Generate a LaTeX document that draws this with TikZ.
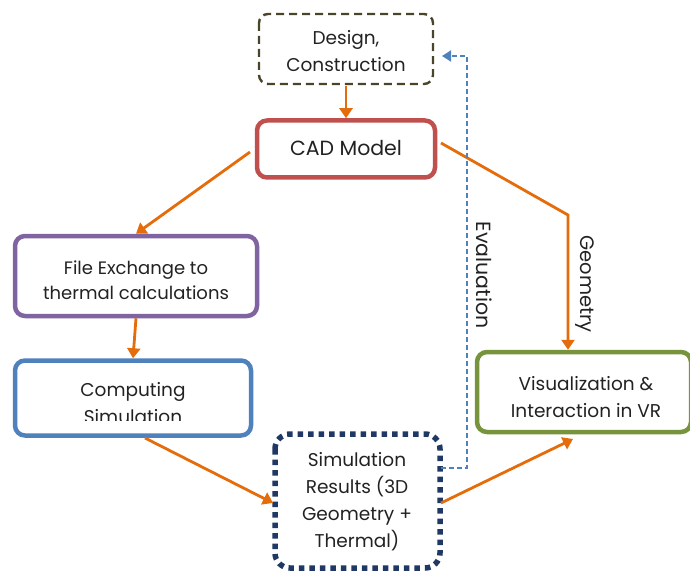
\documentclass[tikz,border=0pt]{standalone}
\usepackage{fontspec}
\setmainfont{Poppins}
\usetikzlibrary{arrows.meta}
\definecolor{cOrange}{HTML}{E46C0A}
\definecolor{cRed}{HTML}{C0504D}
\definecolor{cPurple}{HTML}{8064A2}
\definecolor{cBlue}{HTML}{4F81BD}
\definecolor{cGreen}{HTML}{77933C}
\definecolor{cNavy}{HTML}{1F3864}
\definecolor{cOlive}{HTML}{4A452A}
\definecolor{cText}{HTML}{222222}
\tikzset{
  x=1pt,y=-1pt,
  box/.style={draw, line width=4.5pt, rounded corners=10pt, fill=white},
  lbl/.style={text=cText, font=\fontsize{18.5}{27}\selectfont, align=center},
  flow/.style={draw=cOrange, line width=2.8pt, -{Triangle[length=10pt,width=13pt]}},
  evalline/.style={draw=cBlue, line width=1.8pt, dash pattern=on 5pt off 3pt, -{Triangle[length=9pt,width=11pt]}},
}
\begin{document}
\begin{tikzpicture}
\useasboundingbox (0,0) rectangle (690,572);
% boxes
\draw[draw=cOlive, line width=2.4pt, dash pattern=on 8pt off 5pt, rounded corners=9pt] (259,14) rectangle (433,84);
\node[lbl] (design) at (346,51) {Design,\\Construction};
\node[box, draw=cRed, minimum width=178pt, minimum height=57pt] (cad) at (346,149) {};
\node[lbl, font=\fontsize{20.5}{27}\selectfont] at (346,148) {CAD Model};
\node[box, draw=cPurple, minimum width=242pt, minimum height=80pt] (file) at (136,276) {};
\node[lbl, font=\fontsize{18}{25}\selectfont] at (136,280) {File Exchange to\\thermal calculations};
\node[box, draw=cBlue, minimum width=236pt, minimum height=75pt] (comp) at (133,398) {};
\begin{scope}
\clip (20,365) rectangle (246,420);
\node[lbl] (comptext) at (133,403) {Computing\\Simulation};
\end{scope}
\node[box, draw=cGreen, minimum width=214pt, minimum height=80pt] (vis) at (584,392) {};
\begin{scope}
\clip (482,357) rectangle (688,417);
\node[lbl] (vistext) at (586,397) {Visualization \&\\Interaction in VR};
\end{scope}
\draw[draw=cNavy, line width=5.5pt, dash pattern=on 5.5pt off 5pt, rounded corners=15pt] (275,434) rectangle (440,568);
\node[lbl] (sim) at (357,502) {Simulation\\Results (3D\\Geometry +\\Thermal)};
\coordinate (simR) at (441,503);
\coordinate (simRe) at (441,468);
\coordinate (designB) at (346,86);
\coordinate (designR) at (442,56);
% connectors
\draw[flow] (designB) -- (cad.north);
\draw[flow] (250,152) -- (file.north);
\draw[flow] (file.south) -- (comp.north);
\draw[flow] (145,438) -- (simR -| 273,0);
\coordinate (bend) at (568,215);
\draw[flow] (441,143) -- (bend) -- (vis.north -| bend);
\draw[flow] (simR) -- (573,439);
\coordinate (evC1) at (467,468);
\coordinate (evC2) at (467,56);
\draw[evalline] (simRe) -- (evC1) -- (evC2) -- (designR);
\node[lbl, rotate=-90, font=\fontsize{20.5}{27}\selectfont] (evallbl) at (484,275) {Evaluation};
\node[lbl, rotate=-90, font=\fontsize{19.5}{27}\selectfont] (geolbl) at (585,284) {Geometry};
\end{tikzpicture}
\end{document}
